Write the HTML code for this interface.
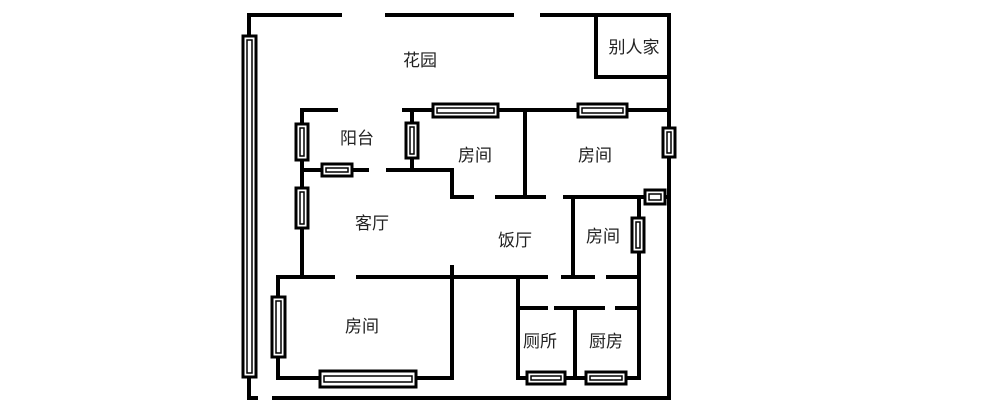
<!DOCTYPE html>
<html><head><meta charset="utf-8"><style>
html,body{margin:0;padding:0;background:#fff;width:1000px;height:411px;overflow:hidden}
text{font-family:"Liberation Sans","Noto Sans CJK SC",sans-serif;font-size:17px;fill:#222}
</style></head><body>
<svg width="1000" height="411" xmlns="http://www.w3.org/2000/svg">
<defs>
<g id="x"></g>
</defs>
<g stroke="#000" stroke-width="4" fill="none" stroke-linecap="square">
<!-- outer -->
<path d="M249,15H340M387,15H512M542,15H669V398H274M249,15V398H256"/>
<path d="M596,15V77H669"/>
<!-- upper -->
<path d="M404,110H669M525,110V196"/>
<path d="M302,110H336M302,110V277M412,110V170"/>
<path d="M302,170H367M388,170H452V197"/>
<path d="M452,197H472M497,197H544M565,197H669"/>
<path d="M573,197V277M639,197V378"/>
<path d="M280,277H333M358,277H546M563,277H593M608,277H639"/>
<path d="M452,267V378M278,277V378H452"/>
<path d="M518,277V378H639M518,308H546M556,308H603M617,308H639M575,308V378"/>
</g>
<g fill="#fff" stroke="#000">
<!-- windows: outer rect + inner rect -->
<g stroke-width="3">
<rect x="243" y="36" width="13" height="341"/>
<rect x="433" y="104" width="65" height="13"/>
<rect x="578" y="104" width="49" height="13"/>
<rect x="663" y="128" width="12" height="29"/>
<rect x="296" y="124" width="12" height="36"/>
<rect x="406" y="123" width="12" height="35"/>
<rect x="322" y="164" width="30" height="12"/>
<rect x="296" y="188" width="12" height="40"/>
<rect x="645" y="190" width="20" height="14"/>
<rect x="632" y="218" width="12" height="34"/>
<rect x="272" y="297" width="13" height="60"/>
<rect x="320" y="371" width="96" height="16"/>
<rect x="527" y="372" width="38" height="12"/>
<rect x="586" y="372" width="40" height="12"/>
</g>
<g stroke-width="1.5">
<rect x="247" y="40" width="5" height="333"/>
<rect x="437" y="108" width="57" height="5"/>
<rect x="582" y="108" width="41" height="5"/>
<rect x="667" y="132" width="4" height="21"/>
<rect x="300" y="128" width="4" height="28"/>
<rect x="410" y="127" width="4" height="27"/>
<rect x="326" y="168" width="22" height="4"/>
<rect x="300" y="192" width="4" height="32"/>
<rect x="649" y="194" width="12" height="6"/>
<rect x="636" y="222" width="4" height="26"/>
<rect x="276" y="301" width="5" height="52"/>
<rect x="324" y="376" width="88" height="6"/>
<rect x="531" y="376" width="30" height="4"/>
<rect x="590" y="376" width="32" height="4"/>
</g>
</g>
<text x="420" y="66" text-anchor="middle">花园</text>
<text x="634" y="53" text-anchor="middle">别人家</text>
<text x="357" y="144" text-anchor="middle">阳台</text>
<text x="475" y="161" text-anchor="middle">房间</text>
<text x="595" y="161" text-anchor="middle">房间</text>
<text x="372" y="229" text-anchor="middle">客厅</text>
<text x="515" y="246" text-anchor="middle">饭厅</text>
<text x="603" y="242" text-anchor="middle">房间</text>
<text x="362" y="332" text-anchor="middle">房间</text>
<text x="540" y="347" text-anchor="middle">厕所</text>
<text x="606" y="347" text-anchor="middle">厨房</text>
</svg>
</body></html>
